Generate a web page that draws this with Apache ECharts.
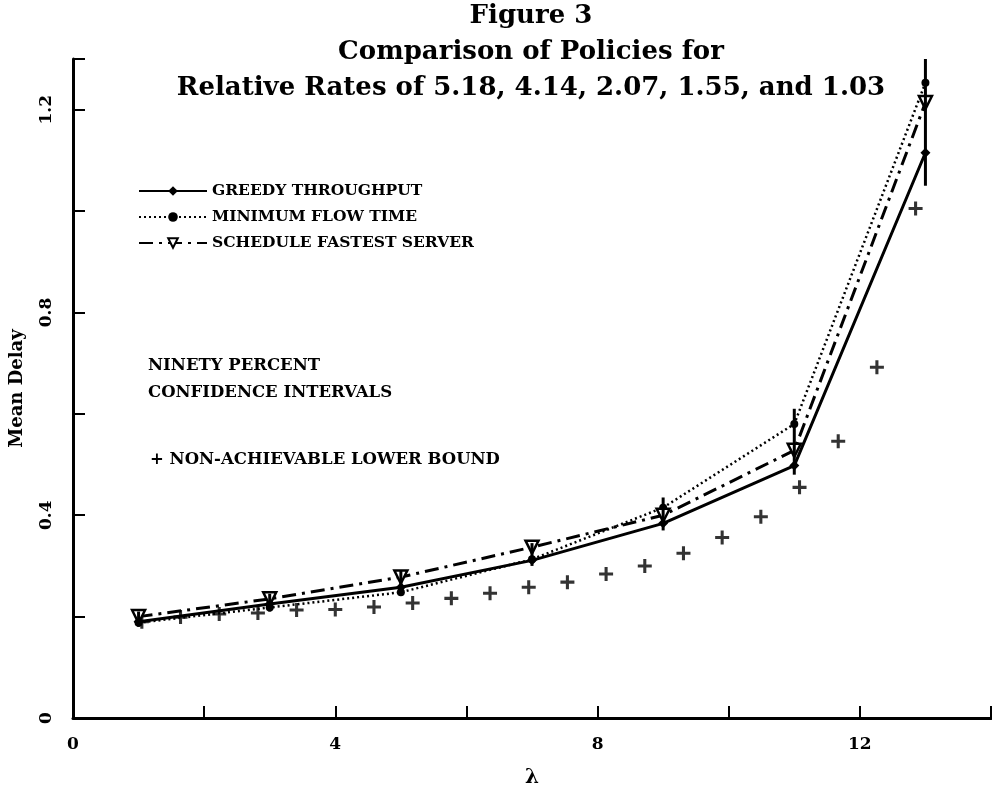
<!DOCTYPE html>
<html>
<head>
<meta charset="utf-8">
<script src="https://cdn.jsdelivr.net/npm/echarts@6/dist/echarts.min.js"></script>
<style>
html, body { margin: 0; padding: 0; background: #fff; }
#main { width: 992px; height: 786px; }
</style>
</head>
<body>
<div id="main"></div>
<script>
// policy runs, lambda values
var lambdas = [1, 3, 5, 7, 9, 11, 13];
var greedy = [0.19, 0.225, 0.258, 0.311, 0.384, 0.498, 1.115];
var minFlow = [0.188, 0.218, 0.248, 0.313, 0.415, 0.58, 1.253];
var fastest = [0.2, 0.235, 0.278, 0.337, 0.4, 0.528, 1.214];

// ninety percent confidence intervals
var ciLow = [0.18, 0.21, 0.245, 0.3, 0.37, 0.48, 1.05];
var ciHigh = [0.21, 0.245, 0.29, 0.345, 0.435, 0.61, 1.3];

// non-achievable lower bound
var boundX = [1.05, 1.64, 2.23, 2.82, 3.41, 4.0, 4.59, 5.18, 5.77, 6.36, 6.95,
	7.54, 8.13, 8.72, 9.31, 9.9, 10.49, 11.08, 11.67, 12.26, 12.85];
var boundY = [0.19, 0.199, 0.205, 0.207, 0.213, 0.214, 0.219, 0.227, 0.236, 0.246, 0.258,
	0.268, 0.284, 0.3, 0.325, 0.356, 0.397, 0.455, 0.546, 0.692, 1.005];

var xTickLabels = ['0', '4', '8', '12'];
var yTickLabels = ['0', '0.4', '0.8', '1.2'];

function pairs(xs, ys) {
	return xs.map(function (x, i) { return [x, ys[i]]; });
}

var font = 'DejaVu Serif';
var plusPath = 'path://M3.9,0h2.2v3.9h3.9v2.2h-3.9v3.9h-2.2v-3.9h-3.9v-2.2h3.9z';
var noteStyle = {fontFamily: font, fontWeight: 'bold', fontSize: 16.5, fill: '#000'};

var myChart = echarts.init(document.getElementById('main'));

var option = {
	backgroundColor: '#fff',
	animation: false,
	title: {
		text: 'Figure 3\nComparison of Policies for\nRelative Rates of 5.18, 4.14, 2.07, 1.55, and 1.03',
		left: 531,
		top: -2,
		padding: 0,
		textAlign: 'center',
		textStyle: {fontFamily: font, fontWeight: 'bold', fontSize: 26, lineHeight: 36, color: '#000'}
	},
	legend: {
		orient: 'vertical',
		left: 133,
		top: 178,
		itemWidth: 68,
		itemHeight: 12,
		itemGap: 10,
		data: ['GREEDY THROUGHPUT', 'MINIMUM FLOW TIME', 'SCHEDULE FASTEST SERVER'],
		textStyle: {fontFamily: font, fontWeight: 'bold', fontSize: 15.5, color: '#000'}
	},
	grid: {left: 73, right: 1, top: 59, bottom: 68, outerBoundsMode: 'none', containLabel: false},
	xAxis: {
		type: 'value',
		min: 0,
		max: 14,
		interval: 2,
		name: 'λ',
		nameLocation: 'middle',
		nameGap: 50,
		nameTextStyle: {fontFamily: font, fontWeight: 'bold', fontSize: 20, color: '#000'},
		axisLine: {lineStyle: {color: '#000', width: 3}},
		axisTick: {inside: true, length: 12, lineStyle: {color: '#000', width: 2}},
		splitLine: {show: false},
		axisLabel: {
			margin: 18,
			fontFamily: font, fontWeight: 'bold', fontSize: 17, color: '#000',
			formatter: function (v) {
				var s = String(v);
				return xTickLabels.indexOf(s) >= 0 ? s : '';
			}
		}
	},
	yAxis: {
		type: 'value',
		min: 0,
		max: 1.3,
		interval: 0.2,
		name: 'Mean Delay',
		nameLocation: 'middle',
		nameGap: 47,
		nameTextStyle: {fontFamily: font, fontWeight: 'bold', fontSize: 18, color: '#000'},
		axisLine: {show: true, lineStyle: {color: '#000', width: 3}},
		axisTick: {show: true, inside: true, length: 12, lineStyle: {color: '#000', width: 2}},
		splitLine: {show: false},
		axisLabel: {
			rotate: 90,
			margin: 18,
			fontFamily: font, fontWeight: 'bold', fontSize: 17, color: '#000',
			formatter: function (v) {
				var s = String(Math.round(v * 10) / 10);
				return yTickLabels.indexOf(s) >= 0 ? s : '';
			}
		}
	},
	graphic: [
		{type: 'text', left: 148, top: 357, style: Object.assign({text: 'NINETY PERCENT'}, noteStyle)},
		{type: 'text', left: 148, top: 384, style: Object.assign({text: 'CONFIDENCE INTERVALS'}, noteStyle)},
		{type: 'text', left: 150, top: 451, style: Object.assign({text: '+ NON-ACHIEVABLE LOWER BOUND'}, noteStyle)}
	],
	series: [
		{
			name: 'GREEDY THROUGHPUT',
			type: 'line',
			data: pairs(lambdas, greedy),
			symbol: 'diamond',
			symbolSize: 10,
			itemStyle: {color: '#000'},
			lineStyle: {color: '#000', width: 3, type: 'solid'},
			z: 4
		},
		{
			name: 'MINIMUM FLOW TIME',
			type: 'line',
			data: pairs(lambdas, minFlow),
			symbol: 'circle',
			symbolSize: 8,
			itemStyle: {color: '#000'},
			lineStyle: {color: '#000', width: 2.5, type: [2, 3]},
			z: 3
		},
		{
			name: 'SCHEDULE FASTEST SERVER',
			type: 'line',
			data: pairs(lambdas, fastest),
			symbol: 'triangle',
			symbolRotate: 180,
			symbolSize: 13,
			itemStyle: {color: '#fff', borderColor: '#000', borderWidth: 2.5},
			lineStyle: {color: '#000', width: 3, type: [14, 6, 3, 6]},
			z: 5
		},
		{
			name: 'CI',
			type: 'custom',
			data: lambdas.map(function (x, i) { return [x, ciLow[i], ciHigh[i]]; }),
			renderItem: function (params, api) {
				var a = api.coord([api.value(0), api.value(1)]);
				var b = api.coord([api.value(0), api.value(2)]);
				return {
					type: 'line',
					shape: {x1: a[0], y1: a[1], x2: b[0], y2: b[1]},
					style: {stroke: '#000', lineWidth: 3}
				};
			},
			z: 6
		},
		{
			name: 'LOWER BOUND',
			type: 'scatter',
			data: pairs(boundX, boundY),
			symbol: plusPath,
			symbolSize: 14,
			itemStyle: {color: '#000'},
			z: 2
		}
	]
};
myChart.setOption(option);
</script>
</body>
</html>
